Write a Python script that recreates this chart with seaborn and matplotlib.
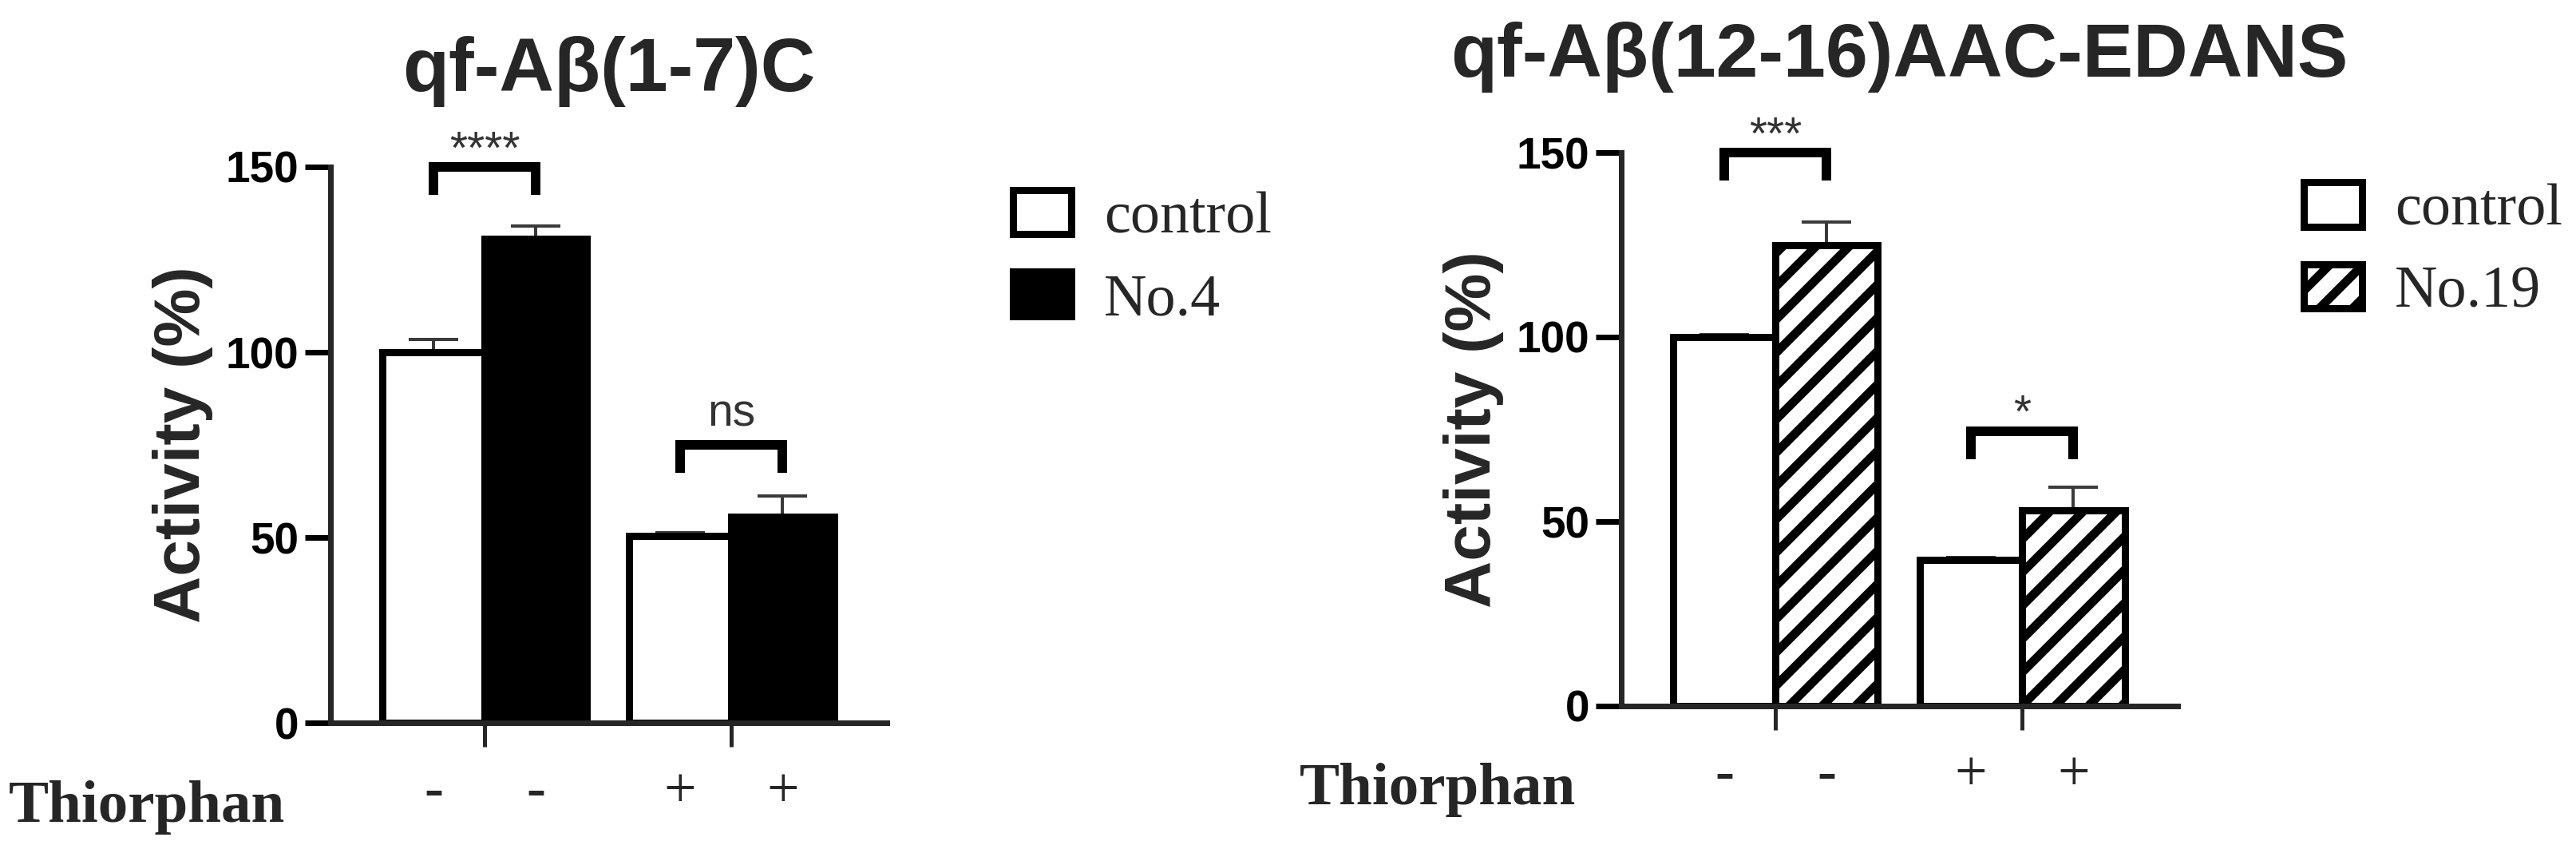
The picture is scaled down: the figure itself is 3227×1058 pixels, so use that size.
import pandas as pd
import matplotlib
matplotlib.use('Agg')
import matplotlib.pyplot as plt
import matplotlib.transforms as mtransforms
import seaborn as sns

DPI = 250
W, H = 3227, 1058


def px(v):
    # pixel size -> points at the output dpi
    return v * 72 / DPI


# data
thiorphan = ['-', '+']
yticks = [0, 50, 100, 150]

left_title = 'qf-Aβ(1-7)C'
left_groups = ['control', 'No.4']
left_control = [100, 50.5]
left_control_err = [3.5, 0.9]
left_drug = [130.5, 55.5]
left_drug_err = [3.5, 5.8]
left_sig = ['****', 'ns']
left_sig_y = [150, 75]

right_title = 'qf-Aβ(12-16)AAC-EDANS'
right_groups = ['control', 'No.19']
right_control = [100, 39.6]
right_control_err = [0.6, 0.7]
right_drug = [124.8, 53.0]
right_drug_err = [6.3, 6.2]
right_sig = ['***', '*']
right_sig_y = [150, 74.5]

sns.set_style('ticks')
plt.rcParams['font.family'] = ['Liberation Sans', 'DejaVu Sans']
plt.rcParams['hatch.linewidth'] = px(11)
plt.rcParams['hatch.color'] = 'black'

fig = plt.figure(figsize=(W / DPI, H / DPI), dpi=DPI)


def panel(rect, title, groups, control, control_err, drug, drug_err,
          sig, sig_y, drug_color, hatch, legend_y):
    ax = fig.add_axes(rect)
    df = pd.DataFrame({
        'Thiorphan': thiorphan * 2,
        'group': [groups[0]] * 2 + [groups[1]] * 2,
        'Activity': control + drug,
    })
    sns.barplot(data=df, x='Thiorphan', y='Activity', hue='group',
                order=thiorphan, hue_order=groups,
                palette={groups[0]: 'white', groups[1]: drug_color},
                edgecolor='black', linewidth=px(9), width=0.83,
                errorbar=None, saturation=1, legend=False, ax=ax)
    if hatch:
        for p in ax.containers[1]:
            p.set_hatch(hatch)

    centers = [[p.get_x() + p.get_width() / 2 for p in cont] for cont in ax.containers]

    # upper-only error bars, behind the bars
    for xs, vals, errs in zip(centers, [control, drug], [control_err, drug_err]):
        ax.errorbar(xs, vals, yerr=[[0] * len(errs), errs], fmt='none',
                    ecolor='#3a3a3a', elinewidth=px(4), capsize=px(31),
                    capthick=px(4), zorder=0.5)

    # significance brackets
    for i, (label, top) in enumerate(zip(sig, sig_y)):
        x0, x1 = centers[0][i], centers[1][i]
        ax.plot([x0, x0, x1, x1], [top - 7.6, top, top, top - 7.6],
                color='black', lw=px(12), clip_on=False,
                solid_joinstyle='miter', solid_capstyle='butt')
        off = 5 if label == 'ns' else 1
        ax.text((x0 + x1) / 2, top + off, label, ha='center', va='baseline',
                fontsize=px(57), color='#333333', clip_on=False)

    ax.set_xlim(-0.625, 1.63)
    ax.set_ylim(0, 150)
    ax.set_yticks(yticks)
    ax.set_xticks([0, 1])
    ax.set_xticklabels(['', ''])
    ax.set_xlabel('')
    ax.set_ylabel('Activity (%)', fontsize=px(82), fontweight='bold', va='center')
    ax.yaxis.set_label_coords(-0.265, 0.5)
    ax.set_title(title, fontsize=px(95), fontweight='bold', pad=px(95))
    sns.despine(ax=ax)
    for s in ['left', 'bottom']:
        ax.spines[s].set_linewidth(px(7))
    ax.tick_params(axis='y', length=px(32), width=px(7), labelsize=px(55),
                   pad=px(8), colors='black')
    ax.tick_params(axis='x', length=px(30), width=px(5))
    for t in ax.get_yticklabels():
        t.set_fontweight('bold')

    # Thiorphan row
    trans = mtransforms.blended_transform_factory(ax.transData, ax.transAxes)
    ax.text(-0.578, -0.178, 'Thiorphan', transform=ax.transAxes, ha='left',
            va='baseline', fontsize=px(75), fontweight='bold',
            family='Liberation Serif')
    for xs in centers:
        for x, s in zip(xs, thiorphan):
            ax.text(x, -0.126, s, transform=trans, ha='center', va='center',
                    fontsize=px(72), family='Liberation Serif',
                    fontweight='bold' if s == '-' else 'normal')

    handles = [ax.containers[0][0], ax.containers[1][0]]
    ax.legend(handles, groups, loc='center left', bbox_to_anchor=(1.227, legend_y),
              frameon=False, prop={'family': 'Liberation Serif', 'size': px(74)},
              handlelength=73 / 74, handleheight=58 / 74, handletextpad=0.55,
              labelspacing=0.45, borderpad=0, borderaxespad=0)
    return ax


panel([414 / W, (H - 905) / H, 697 / W, 696 / H], left_title, left_groups,
      left_control, left_control_err, left_drug, left_drug_err,
      left_sig, left_sig_y, 'black', None, 0.835)
panel([2031 / W, (H - 884) / H, 697 / W, 693 / H], right_title, right_groups,
      right_control, right_control_err, right_drug, right_drug_err,
      right_sig, right_sig_y, 'white', '//', 0.8225)

fig.savefig('out.png', dpi=DPI)
